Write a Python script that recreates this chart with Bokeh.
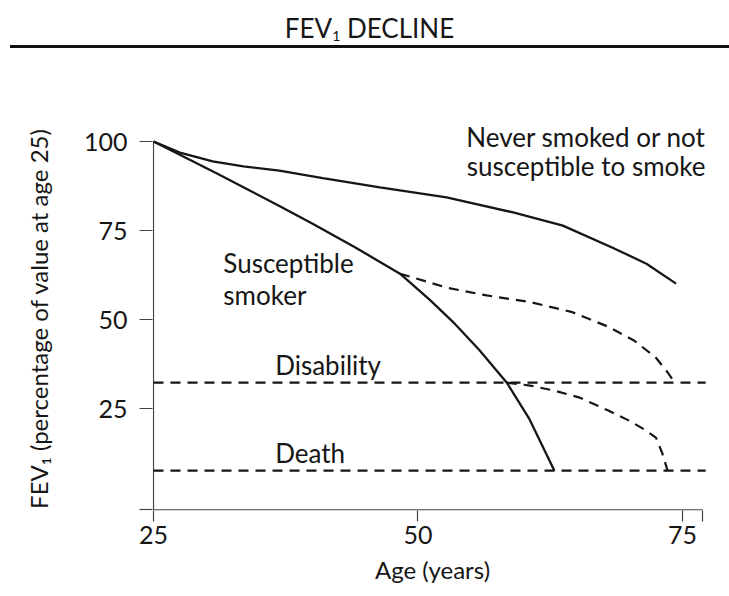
from bokeh.plotting import figure
from bokeh.models import Label, FixedTicker, Div
from bokeh.layouts import column
from bokeh.embed import file_html
from bokeh.resources import INLINE

FONT = "Lato"
INK = "#161616"
AXIS = "#444444"

# ---- data ----
age_ticks = [25, 50, 75]
fev_ticks = [25, 50, 75, 100]
age_min, age_max = 25, 76.9      # extent of the drawn x axis
fev_min, fev_max = -3.4, 100     # extent of the drawn y axis

never_age = [25, 27.5, 30.6, 33.5, 36.9, 41.0, 46.4, 52.7, 59.0, 63.7, 68.4, 71.6, 74.4]
never_fev = [100, 96.9, 94.4, 93.0, 91.8, 89.7, 87.1, 84.3, 80.1, 76.4, 70.2, 65.7, 60.1]

smoker_age = [25, 28, 31, 34, 36.9, 40, 44, 48.3, 51.1, 53.5, 55.8, 58.4, 60.5, 62.9]
smoker_fev = [100, 95.5, 91.0, 86.4, 81.9, 77.0, 70.4, 62.9, 55.6, 48.8, 41.5, 32.3, 22.3, 7.6]

quit1_age = [48.3, 52.7, 56.5, 60.5, 64.5, 68.0, 70.5, 72.5, 73.5, 74.3]
quit1_fev = [62.9, 59.0, 56.8, 55.0, 52.2, 48.0, 44.0, 39.3, 35.6, 32.3]

quit2_age = [58.4, 60.6, 63.0, 65.3, 68.0, 70.0, 71.5, 72.5, 73.1, 73.6]
quit2_fev = [32.3, 31.5, 30.0, 28.1, 24.5, 21.6, 19.0, 16.9, 12.5, 7.6]

levels_name = ["Disability", "Death"]
levels_fev = [32.3, 7.6]

# ---- geometry: frame slightly larger than the drawn axes so texts are not clipped ----
PX_X = 549 / (age_max - age_min)     # pixels per year
PX_Y = 368 / (fev_max - fev_min)     # pixels per percent
x_lo = age_min - 1 / PX_X
x_hi = age_max + 10 / PX_X
y_lo = fev_min - 0.6 / PX_Y
y_hi = fev_max + 15 / PX_Y

title = Div(
    text=('<div style="display:block;width:719px;margin-left:10px;font-family:Lato;font-size:26px;'
          'color:#161616;text-align:center;line-height:30px;padding-top:13px;padding-bottom:2px;'
          'border-bottom:3px solid #111;">'
          'FEV<sub style="font-size:14px;line-height:0;vertical-align:-3px;">1</sub> DECLINE</div>'),
    width=729, height=50, margin=(0, 0, 0, 0))

p = figure(width=729, height=546, x_range=(x_lo, x_hi), y_range=(y_lo, y_hi),
           output_backend="svg", toolbar_location=None, margin=(0, 0, 0, 0),
           min_border_left=152, min_border_right=17, min_border_top=76, min_border_bottom=86)
p.outline_line_color = None
p.grid.visible = False

# axis lines (limited to the data extent, as in the reference)
p.line([age_min, age_min], [fev_min, fev_max], line_color=AXIS, line_width=1.2)
p.line([age_min, age_max], [fev_min, fev_min], line_color=AXIS, line_width=1.2)

# curves
p.line(never_age, never_fev, line_color=INK, line_width=2.3)
p.line(smoker_age, smoker_fev, line_color=INK, line_width=2.3)
p.line(quit1_age, quit1_fev, line_color=INK, line_width=2.2, line_dash="10 7")
p.line(quit2_age, quit2_fev, line_color=INK, line_width=2.2, line_dash="10 7")
for lv in levels_fev:
    p.line([age_min, age_max + 0.3], [lv, lv], line_color=INK, line_width=2.2, line_dash="10 7")

# axes (ticks and labels)
p.xaxis.ticker = FixedTicker(ticks=age_ticks, minor_ticks=[age_max])
p.yaxis.ticker = FixedTicker(ticks=fev_ticks, minor_ticks=[fev_min])
for ax in (p.xaxis, p.yaxis):
    ax.axis_line_color = None
    ax.major_tick_line_color = AXIS
    ax.minor_tick_line_color = AXIS
    ax.major_tick_line_width = 1.2
    ax.minor_tick_line_width = 1.2
    ax.major_tick_in = 0
    ax.minor_tick_in = 0
    ax.major_label_text_font = FONT
    ax.major_label_text_font_size = "25px"
    ax.major_label_text_color = INK
    ax.axis_label_text_font = FONT
    ax.axis_label_text_font_size = "24px"
    ax.axis_label_text_font_style = "normal"
    ax.axis_label_text_color = INK

p.xaxis.major_tick_out = 11
p.xaxis.minor_tick_out = 11
p.xaxis.major_label_standoff = 4
p.xaxis.axis_label = "Age (years)"
p.xaxis.axis_label_standoff = 8

p.yaxis.major_tick_out = 13
p.yaxis.minor_tick_out = 13
p.yaxis.major_label_standoff = 12
p.yaxis.axis_label = "FEV\u2081 (percentage of value at age 25)"
p.yaxis.axis_label_standoff = 28

def lab(x, y, t, align="left"):
    p.add_layout(Label(x=x, y=y, text=t, text_font=FONT, text_font_size="26px",
                       text_color=INK, text_align=align, text_baseline="alphabetic"))

lab(65.9, 101.4, "Never smoked or not", "center")
lab(65.9, 93.0, "susceptible to smoke", "center")
lab(31.6, 66.0, "Susceptible")
lab(31.6, 57.0, "smoker")
lab(36.5, 37.3, levels_name[0])
lab(36.5, 12.6, levels_name[1])

layout = column(title, p)
open("out.html", "w").write(file_html(layout, INLINE))
